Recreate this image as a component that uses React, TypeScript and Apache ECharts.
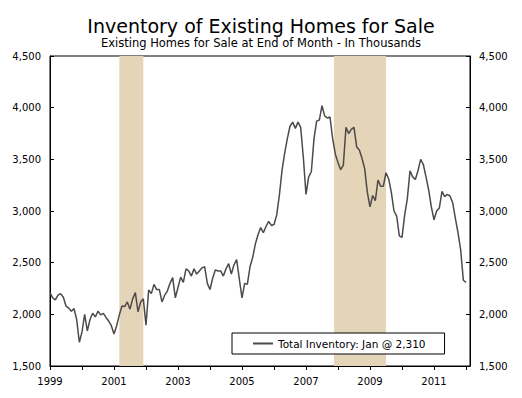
import React, { useEffect, useRef } from "react";
import * as echarts from "echarts";

// Existing homes for sale at end of month, thousands (monthly, Jan of each year first)
const y1999 = [2210, 2160, 2140, 2185, 2200, 2165, 2080, 2060, 2030, 2055, 1950, 1730];
const y2000 = [1830, 2000, 1840, 1950, 2010, 1975, 2030, 1995, 2010, 1970, 1935, 1890];
const y2001 = [1810, 1890, 1995, 2080, 2075, 2120, 2050, 2150, 2210, 2025, 2120, 2150];
const y2002 = [1895, 2235, 2200, 2290, 2240, 2240, 2120, 2185, 2225, 2300, 2355, 2160];
const y2003 = [2260, 2360, 2310, 2440, 2420, 2370, 2440, 2390, 2420, 2450, 2460, 2300];
const y2004 = [2240, 2350, 2430, 2420, 2420, 2370, 2440, 2490, 2390, 2480, 2530, 2340];
const y2005 = [2160, 2300, 2290, 2460, 2550, 2680, 2770, 2840, 2790, 2850, 2900, 2860];
const y2006 = [2870, 2960, 3150, 3390, 3560, 3700, 3820, 3860, 3800, 3860, 3810, 3520];
const y2007 = [3160, 3330, 3380, 3700, 3870, 3880, 4020, 3920, 3900, 3910, 3700, 3550];
const y2008 = [3470, 3400, 3445, 3810, 3750, 3790, 3810, 3620, 3590, 3510, 3410, 3180];
const y2009 = [3040, 3150, 3100, 3300, 3240, 3240, 3370, 3310, 3180, 3000, 2950, 2760];
const y2010 = [2745, 2960, 3120, 3390, 3330, 3305, 3390, 3500, 3450, 3330, 3205, 3040];
const y2011 = [2915, 3000, 3030, 3190, 3140, 3160, 3145, 3080, 2930, 2790, 2625, 2330];
const y2012 = [2310];

const startYear = 1999;
const inventory = [
  ...y1999, ...y2000, ...y2001, ...y2002, ...y2003, ...y2004, ...y2005,
  ...y2006, ...y2007, ...y2008, ...y2009, ...y2010, ...y2011, ...y2012,
];

// Recession periods (fractional years)
const recessions = [
  [2001.167, 2001.917],
  [2007.875, 2009.5],
];

const seriesName = "Total Inventory: Jan @ 2,310";
const titleText = "Inventory of Existing Homes for Sale";
const subtitleText = "Existing Homes for Sale at End of Month - In Thousands";

const yMin = 1500;
const yMax = 4500;
const yStep = 500;
const xMin = 1999;
const xMax = 2012.125;

const FONT = "'DejaVu Sans', Verdana, sans-serif";

export default function App() {
  const ref = useRef<HTMLDivElement>(null);

  useEffect(() => {
    if (!ref.current) return;
    const chart = echarts.init(ref.current, null, { renderer: "svg" });
    const data = inventory.map((v, i) => [startYear + i / 12, v]);
    const yLabel = (v: number) => v.toLocaleString("en-US");
    const yAxisBase = {
      type: "value",
      min: yMin,
      max: yMax,
      interval: yStep,
      axisLine: { show: true, lineStyle: { color: "#000", width: 1 } },
      axisTick: { show: true, inside: true, length: 4, lineStyle: { color: "#000" } },
      splitLine: { show: false },
      axisLabel: { formatter: yLabel, color: "#000", fontSize: 10, fontFamily: FONT, margin: 9 },
    };
    chart.setOption({
      animation: false,
      backgroundColor: "#fff",
      textStyle: { fontFamily: FONT },
      title: {
        text: titleText,
        subtext: subtitleText,
        left: "center",
        top: 11,
        itemGap: 2,
        textStyle: { fontSize: 19, fontWeight: "normal", color: "#000", fontFamily: FONT },
        subtextStyle: { fontSize: 11.5, color: "#000", fontFamily: FONT },
      },
      grid: {
        left: 50,
        right: 52,
        top: 56,
        bottom: 32,
        show: true,
        borderColor: "#000",
        borderWidth: 1,
      },
      legend: {
        left: 232,
        top: 333,
        padding: [5, 19, 5, 21],
        borderColor: "#000",
        borderWidth: 1,
        backgroundColor: "#fff",
        itemWidth: 20,
        itemHeight: 2,
        itemGap: 5,
        textStyle: { fontSize: 10.5, color: "#000", fontFamily: FONT },
        data: [{ name: seriesName, icon: "rect" }],
      },
      xAxis: {
        type: "value",
        min: xMin,
        max: xMax,
        interval: 1,
        axisLine: { show: true, lineStyle: { color: "#000", width: 1 } },
        axisTick: { show: true, inside: false, length: 4, lineStyle: { color: "#000" } },
        splitLine: { show: false },
        axisLabel: {
          color: "#000",
          fontSize: 10,
          fontFamily: FONT,
          margin: 10,
          showMaxLabel: false,
          formatter: (v: number) =>
            Number.isInteger(v) && (v - startYear) % 2 === 0 && v < 2012 ? String(v) : "",
        },
      },
      yAxis: [
        { ...yAxisBase, position: "left" },
        { ...yAxisBase, position: "right" },
      ],
      series: [
        {
          name: seriesName,
          type: "line",
          data,
          symbol: "none",
          lineStyle: { color: "#4d4a48", width: 1.5 },
          itemStyle: { color: "#4d4a48" },
          z: 3,
          markArea: {
            silent: true,
            itemStyle: { color: "#e4d4b8" },
            data: recessions.map(([a, b]) => [{ xAxis: a }, { xAxis: b }]),
          },
        },
      ],
    });
    return () => chart.dispose();
  }, []);

  return (
    <div
      ref={ref}
      style={{ position: "absolute", left: 0, top: 0, width: 522, height: 398 }}
    />
  );
}
